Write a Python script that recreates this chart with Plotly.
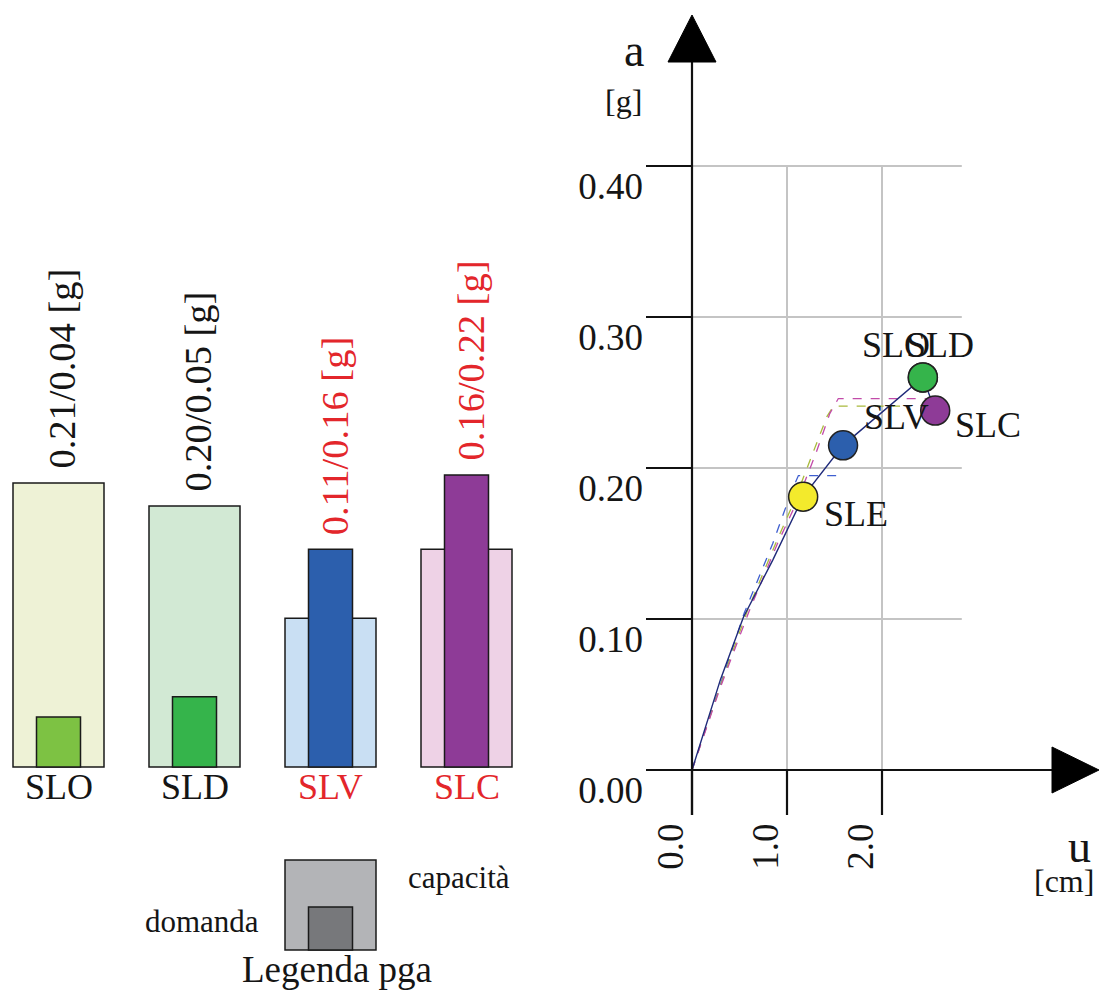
import plotly.graph_objects as go

# ---------------- data ----------------
states = ["SLO", "SLD", "SLV", "SLC"]
pga_capacity = [0.21, 0.193, 0.11, 0.161]
pga_demand = [0.037, 0.052, 0.161, 0.216]
pga_labels = ["0.21/0.04 [g]", "0.20/0.05 [g]", "0.11/0.16 [g]", "0.16/0.22 [g]"]
state_text_colors = ["#151515", "#151515", "#e3262b", "#e3262b"]
capacity_colors = ["#eef2d6", "#d2e9d4", "#c9dff3", "#eed2e6"]
demand_colors = ["#7dc243", "#35b44b", "#2c5fad", "#8e3b97"]

# capacity curve of the structure (solid) and bilinear curves (dashed)
curve_u = [0.0, 0.30, 0.54, 0.85, 1.17, 1.59, 2.43, 2.56]
curve_a = [0.0, 0.060, 0.101, 0.139, 0.181, 0.215, 0.260, 0.238]
bil1_u = [0.0, 0.30, 0.60, 0.90, 1.10, 1.30, 1.45, 1.54, 2.47]
bil1_a = [0.0, 0.055, 0.105, 0.150, 0.177, 0.209, 0.236, 0.246, 0.246]
bil2_u = [0.0, 0.30, 0.58, 0.88, 1.07, 1.27, 1.42, 1.49, 2.19]
bil2_a = [0.0, 0.056, 0.105, 0.150, 0.177, 0.209, 0.234, 0.241, 0.241]
bil3_u = [0.0, 0.30, 0.55, 0.85, 1.05, 1.12, 1.58]
bil3_a = [0.0, 0.057, 0.104, 0.150, 0.185, 0.195, 0.195]

point_names = ["SLO", "SLD", "SLC", "SLV", "SLE"]
point_u = [2.43, 2.43, 2.56, 1.59, 1.17]
point_a = [0.260, 0.260, 0.238, 0.215, 0.181]
point_colors = ["#7dc243", "#35b44b", "#8e3b97", "#2c5fad", "#f3ea2c"]
point_label_shift = [(-63, 32), (-19, 32), (18, -14), (19, 28), (19, -17)]

u_ticks = [0.0, 1.0, 2.0]
a_ticks = [0.0, 0.1, 0.2, 0.3, 0.4]
grid_u_max = 2.84

# ---------------- geometry ----------------
W, H = 1099, 992
FONT = "'Liberation Serif', 'Times New Roman', serif"
# left (bars)
CAT_PX, CAT0_PX, BASE_PX, PX_PER_G = 136.0, 58.5, 767.0, 1352.0
W_CAP, W_DEM = 91 / 136.0, 44 / 136.0
# right (a-u diagram)
X0_PX, U0_PX, PX_PER_CM = 646.0, 692.0, 95.0
A0_PX, PX_PER_G2, YB_PX, YT_PX = 770.0, 1510.0, 815.0, 10.0
u_min = (X0_PX - U0_PX) / PX_PER_CM
u_max = (W - U0_PX) / PX_PER_CM
a_min = (A0_PX - YB_PX) / PX_PER_G2
a_max = (A0_PX - YT_PX) / PX_PER_G2
u_arrow = (W - U0_PX) / PX_PER_CM
a_arrow = (A0_PX - 15) / PX_PER_G2

fig = go.Figure()

xs = list(range(len(states)))
fig.add_trace(go.Bar(x=xs, y=pga_capacity, width=W_CAP, marker=dict(color=capacity_colors,
              line=dict(color="#1a1a1a", width=1.5)), xaxis="x", yaxis="y", hoverinfo="skip"))
fig.add_trace(go.Bar(x=xs, y=pga_demand, width=W_DEM, marker=dict(color=demand_colors,
              line=dict(color="#1a1a1a", width=1.5)), xaxis="x", yaxis="y", hoverinfo="skip"))

# curves
for cu, ca, col, dash, wd in [(bil3_u, bil3_a, "#3f5fd0", "dash", 1.3),
                              (bil2_u, bil2_a, "#a9b93c", "dash", 1.3),
                              (bil1_u, bil1_a, "#c24ba9", "dash", 1.3),
                              (curve_u, curve_a, "#1f2a7a", "solid", 1.4)]:
    fig.add_trace(go.Scatter(x=cu, y=ca, mode="lines", line=dict(color=col, dash=dash, width=wd),
                             xaxis="x2", yaxis="y2", hoverinfo="skip"))

fig.add_trace(go.Scatter(x=point_u, y=point_a, mode="markers",
                         marker=dict(size=29, color=point_colors, line=dict(color="#222222", width=1.5)),
                         xaxis="x2", yaxis="y2", hoverinfo="skip", cliponaxis=False))

shapes = []
ax_line = dict(color="#111111", width=2.2)
grid_line = dict(color="#c4c4c4", width=2)
# gridlines and tick lines
for a in a_ticks:
    if a > 0:
        shapes.append(dict(type="line", xref="x2", yref="y2", x0=0, x1=grid_u_max, y0=a, y1=a, line=grid_line, layer="below"))
    shapes.append(dict(type="line", xref="x2", yref="y2", x0=u_min, x1=0, y0=a, y1=a, line=ax_line))
for u in u_ticks:
    if u > 0:
        shapes.append(dict(type="line", xref="x2", yref="y2", x0=u, x1=u, y0=0, y1=max(a_ticks), line=grid_line, layer="below"))
    shapes.append(dict(type="line", xref="x2", yref="y2", x0=u, x1=u, y0=a_min, y1=0, line=ax_line))
# axes
shapes.append(dict(type="line", xref="x2", yref="y2", x0=0, x1=0, y0=a_min, y1=a_arrow - 40 / PX_PER_G2, line=ax_line))
shapes.append(dict(type="line", xref="x2", yref="y2", x0=u_min, x1=u_arrow - 40 / PX_PER_CM, y0=0, y1=0, line=ax_line))
# arrow heads
shapes.append(dict(type="path", xref="x2", yref="y2", xsizemode="pixel", ysizemode="pixel",
                   xanchor=0, yanchor=a_arrow, path="M-24,-47 L24,-47 L0,0 Z",
                   fillcolor="#000000", line=dict(color="#000000", width=1)))
shapes.append(dict(type="path", xref="x2", yref="y2", xsizemode="pixel", ysizemode="pixel",
                   xanchor=u_arrow, yanchor=0, path="M-47,-23 L-47,23 L0,0 Z",
                   fillcolor="#000000", line=dict(color="#000000", width=1)))
# pga legend key (square capacity + inner demand)
LEG_X = 2
LEG_Y0, LEG_Y1, LEG_YI = -0.1354, -0.0688, -0.1036
shapes.append(dict(type="rect", xref="x", yref="y", x0=LEG_X - W_CAP / 2, x1=LEG_X + W_CAP / 2,
                   y0=LEG_Y0, y1=LEG_Y1, fillcolor="#b3b4b7", line=dict(color="#1a1a1a", width=1.5)))
shapes.append(dict(type="rect", xref="x", yref="y", x0=LEG_X - W_DEM / 2, x1=LEG_X + W_DEM / 2,
                   y0=LEG_Y0, y1=LEG_YI, fillcolor="#77787b", line=dict(color="#1a1a1a", width=1.5)))

ann = []
for i, s in enumerate(states):
    ann.append(dict(x=i, y=0, xref="x", yref="y", text=s, showarrow=False, xanchor="center", yanchor="top",
                    yshift=2, font=dict(family=FONT, size=36, color=state_text_colors[i])))
    ann.append(dict(x=i, y=max(pga_capacity[i], pga_demand[i]), xref="x", yref="y", text=pga_labels[i],
                    showarrow=False, textangle=-90, xanchor="center", yanchor="bottom", xshift=4, yshift=12,
                    font=dict(family=FONT, size=38.5, color=state_text_colors[i])))
for n, u, a, (dx, dy) in zip(point_names, point_u, point_a, point_label_shift):
    ann.append(dict(x=u, y=a, xref="x2", yref="y2", text=n, showarrow=False, xanchor="left", yanchor="middle",
                    xshift=dx, yshift=dy, font=dict(family=FONT, size=36, color="#151515")))
# axis titles
ann.append(dict(x=0, y=a_arrow, xref="x2", yref="y2", text="a", showarrow=False, xanchor="right", yanchor="middle",
                xshift=-46, yshift=-35, font=dict(family=FONT, size=46, color="#151515")))
ann.append(dict(x=0, y=a_arrow, xref="x2", yref="y2", text="[g]", showarrow=False, xanchor="right", yanchor="middle",
                xshift=-48, yshift=-86, font=dict(family=FONT, size=32, color="#151515")))
ann.append(dict(x=u_arrow, y=0, xref="x2", yref="y2", text="u", showarrow=False, xanchor="right", yanchor="middle",
                xshift=-6, yshift=-76, font=dict(family=FONT, size=46, color="#151515")))
ann.append(dict(x=u_arrow, y=0, xref="x2", yref="y2", text="[cm]", showarrow=False, xanchor="right", yanchor="middle",
                xshift=-3, yshift=-111, font=dict(family=FONT, size=32, color="#151515")))
# legend texts
ann.append(dict(x=LEG_X + W_CAP / 2, y=LEG_Y1, xref="x", yref="y", text="capacità", showarrow=False,
                xanchor="left", yanchor="middle", xshift=30, yshift=-17, font=dict(family=FONT, size=31, color="#151515")))
ann.append(dict(x=LEG_X - W_CAP / 2, y=LEG_YI, xref="x", yref="y", text="domanda", showarrow=False,
                xanchor="right", yanchor="middle", xshift=-24, yshift=-14, font=dict(family=FONT, size=31, color="#151515")))
ann.append(dict(x=LEG_X, y=LEG_Y0, xref="x", yref="y", text="Legenda pga", showarrow=False,
                xanchor="center", yanchor="top", xshift=6, yshift=3, font=dict(family=FONT, size=37, color="#151515")))

fig.update_layout(
    width=W, height=H, margin=dict(l=0, r=0, t=0, b=0), paper_bgcolor="white", plot_bgcolor="white",
    showlegend=False, barmode="overlay", shapes=shapes, annotations=ann,
    xaxis=dict(domain=[0, 0.5], range=[(0 - CAT0_PX) / CAT_PX, (W / 2 - CAT0_PX) / CAT_PX], visible=False),
    yaxis=dict(domain=[0, 1], range=[-(H - BASE_PX) / PX_PER_G, BASE_PX / PX_PER_G], visible=False),
    xaxis2=dict(domain=[X0_PX / W, 1], range=[u_min, u_max], anchor="y2", showgrid=False, zeroline=False,
                showline=False, ticks="", tickvals=u_ticks, tickformat=".1f", tickangle=-90,
                ticklabelshift=-21, ticklabelstandoff=0,
                tickfont=dict(family=FONT, size=37, color="#151515")),
    yaxis2=dict(domain=[(H - YB_PX) / H, (H - YT_PX) / H], range=[a_min, a_max], anchor="x2", showgrid=False,
                zeroline=False, showline=False, ticks="", tickvals=a_ticks, tickformat=".2f",
                ticklabelshift=20, ticklabelstandoff=2,
                tickfont=dict(family=FONT, size=37, color="#151515")),
)

fig.write_html("out.html", config={"displayModeBar": False},
               post_script="document.body.style.margin='0';document.body.style.overflow='hidden';")
